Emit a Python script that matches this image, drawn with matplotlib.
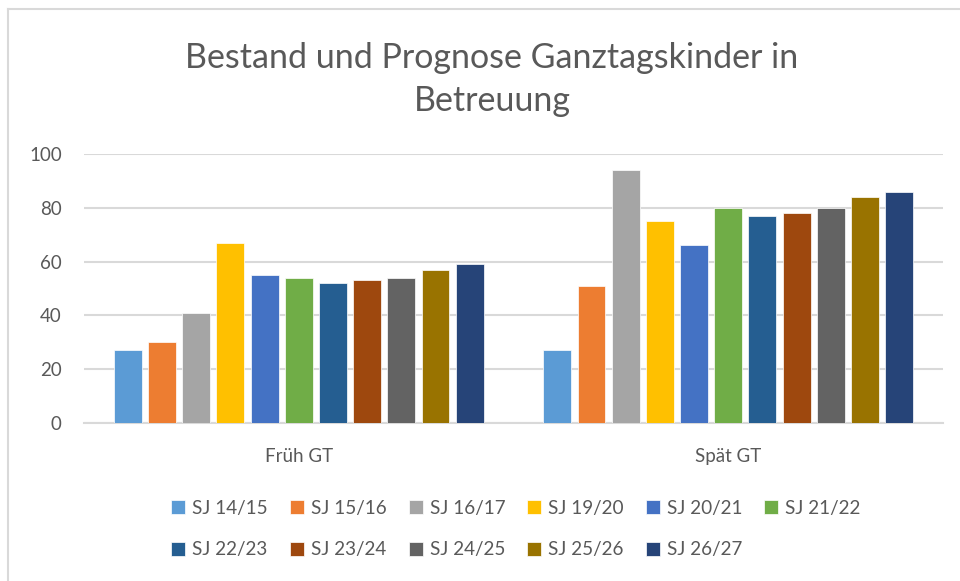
import matplotlib
matplotlib.use("Agg")
import matplotlib.pyplot as plt
from matplotlib.lines import Line2D
import numpy as np

plt.rcParams['font.family'] = ['Lato', 'DejaVu Sans']

categories = ["Früh GT", "Spät GT"]
series = ["SJ 14/15", "SJ 15/16", "SJ 16/17", "SJ 19/20", "SJ 20/21", "SJ 21/22",
          "SJ 22/23", "SJ 23/24", "SJ 24/25", "SJ 25/26", "SJ 26/27"]
frueh = [27, 30, 41, 67, 55, 54, 52, 53, 54, 57, 59]
spaet = [27, 51, 94, 75, 66, 80, 77, 78, 80, 84, 86]
colors = ["#5B9BD5", "#ED7D31", "#A5A5A5", "#FFC000", "#4472C4", "#70AD47",
          "#255E91", "#9E480E", "#636363", "#997300", "#264478"]
yticks = [0, 20, 40, 60, 80, 100]
title_lines = ["Bestand und Prognose Ganztagskinder in", "Betreuung"]

txt = "#595959"
grid = "#d9d9d9"

fig = plt.figure(figsize=(9.6, 5.81), dpi=100)
ax = fig.add_axes([84/960, 1-423/581, (943-84)/960, (423-154)/581])

x = np.arange(len(categories))
pitch = 0.0796
width = 0.065
handles = []
for i, name in enumerate(series):
    vals = [frueh[i], spaet[i]]
    b = ax.bar(x + (i - 5) * pitch, vals, width=width, color=colors[i],
               edgecolor="white", linewidth=0.5, label=name, zorder=3)
    handles.append(b)

ax.set_xlim(-0.5, 1.5)
ax.set_ylim(0, 100)
ax.set_yticks(yticks)
ax.set_xticks(x)
ax.set_xticklabels(categories)
ax.yaxis.grid(True, color=grid, linewidth=1.5, zorder=0)
for s in ["left", "right", "top"]:
    ax.spines[s].set_visible(False)
ax.spines["bottom"].set_color(grid)
ax.spines["bottom"].set_linewidth(1.5)
ax.tick_params(axis="both", length=0, labelsize=13.5, labelcolor=txt)
ax.tick_params(axis="y", pad=16)
ax.tick_params(axis="x", pad=18)

fig.text(492/960, 1-58/581, title_lines[0], ha="center", va="center",
         fontsize=24.5, color=txt)
fig.text(492/960, 1-101/581, title_lines[1], ha="center", va="center",
         fontsize=24.5, color=txt)

# legend, row-major order with 6 columns
order = [0, 6, 1, 7, 2, 8, 3, 9, 4, 10, 5]
leg = fig.legend([handles[k] for k in order], [series[k] for k in order],
                 ncol=6, loc="center", bbox_to_anchor=(516/960, 1-529/581),
                 frameon=False, fontsize=13.6, labelcolor=txt,
                 handlelength=0.74, handleheight=0.74, handletextpad=0.37,
                 columnspacing=1.17, labelspacing=1.3)

# outer frame (top and left visible)
fig.add_artist(Line2D([8/960, 8/960], [0, 1-9/581], transform=fig.transFigure,
                      color=grid, linewidth=1.5))
fig.add_artist(Line2D([8/960, 1], [1-9/581, 1-9/581], transform=fig.transFigure,
                      color=grid, linewidth=1.5))

fig.savefig("out.png", dpi=100, facecolor="white")
